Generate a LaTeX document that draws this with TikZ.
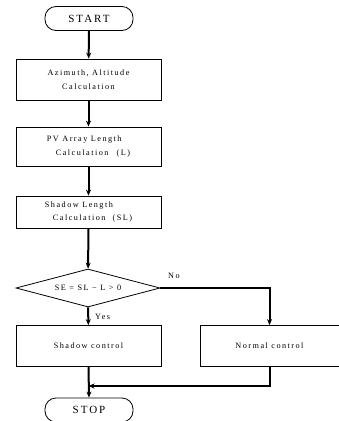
\documentclass[tikz,border=0pt]{standalone}
\usepackage{fontspec}
\setmainfont{Liberation Serif}[LetterSpace=18]
\usetikzlibrary{shapes.geometric,arrows.meta}
\begin{document}
\begin{tikzpicture}[x=1pt,y=-1pt,
  term/.style={draw,line width=0.8pt,rounded corners=11pt,minimum width=88pt,minimum height=24pt,inner sep=0pt,font=\fontsize{11}{11}\selectfont},
  procbox/.style={draw,line width=0.8pt,minimum width=145pt,minimum height=41pt,inner sep=0pt,align=center,font=\fontsize{8.2}{14.5}\selectfont},
  decbox/.style={draw,line width=0.8pt,diamond,aspect=4,minimum width=144pt,minimum height=38pt,inner sep=0pt,font=\fontsize{8.2}{8}\selectfont},
  flow/.style={line width=2pt,-{Stealth[length=6pt,width=5pt]}},
  lbl/.style={font=\fontsize{8.2}{8}\selectfont,inner sep=0pt}]
\useasboundingbox (0,0) rectangle (339,421);
\node[term] (start) at (89,18.5) {START};
\node[procbox] (az) at (88.5,79.5) {Azimuth, Altitude\\Calculation};
\node[procbox,minimum height=39pt,align=left] (pv) at (88.5,146.5) {PV Array Length\\\hspace*{9pt}Calculation\quad(L)};
\node[procbox,minimum height=32pt,align=left,font=\fontsize{8.2}{12.5}\selectfont] (sl) at (88.5,212) {Shadow Length\\\hspace*{8pt}Calculation\ \ (SL)};
\node[decbox] (dec) at (88,288) {SE = SL − L > 0};
\node[procbox] (sc) at (88.5,346) {Shadow control};
\node[procbox,minimum width=139pt] (nc) at (269.5,346) {Normal control};
\node[term] (stop) at (89,410) {STOP};
\node[lbl,anchor=west] (yes) at (95,317) {Yes};
\node[lbl,anchor=west] (no) at (168,276) {No};
\coordinate (ncjoin) at (nc.south |- 0,386);
\coordinate (nodown) at (dec.east -| nc.north);
\coordinate (merge) at (sc.south |- 0,386);
\draw[flow] (start) -- (az);
\draw[flow] (az) -- (pv);
\draw[flow] (pv) -- (sl);
\draw[flow] (sl) -- (dec);
\draw[flow] (dec) -- (sc);
\draw[flow] (dec.east) -- (nodown) -- (nc.north);
\draw[flow] (nc.south) -- (ncjoin) -- (merge);
\draw[flow] (sc.south) -- (stop.north);
\end{tikzpicture}
\end{document}
